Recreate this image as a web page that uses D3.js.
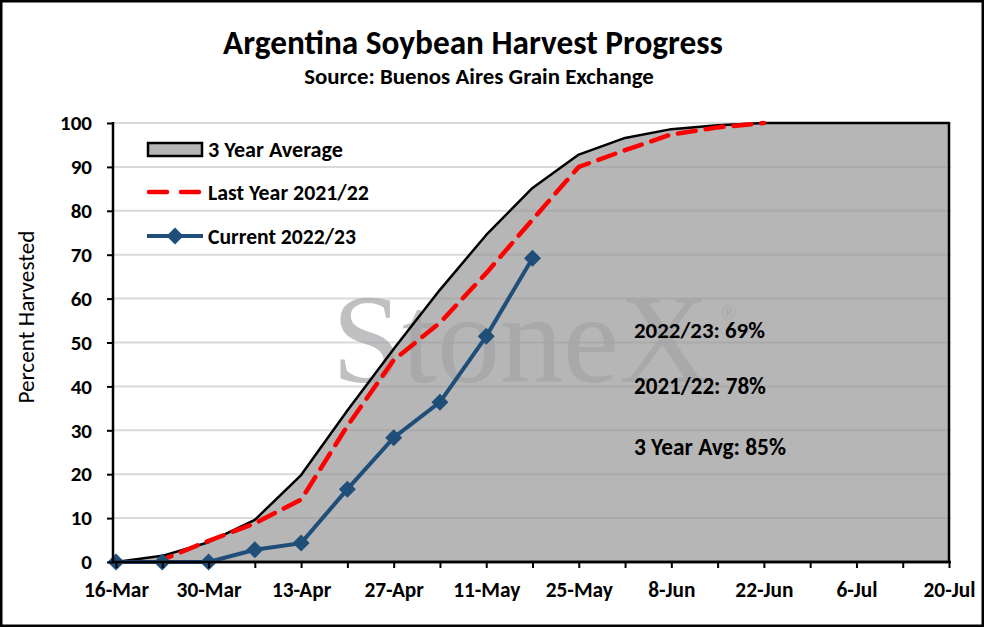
<!DOCTYPE html>
<html>
<head>
<meta charset="utf-8">
<script src="https://cdn.jsdelivr.net/npm/d3@7"></script>
<style>
  body { margin: 0; background: #fff; }
  text { font-family: Carlito, Calibri, Lato, sans-serif; }
</style>
</head>
<body>
<div id="chart"></div>
<script>
// weekly dates (2023 season)
const weeks = ["2023-03-16","2023-03-23","2023-03-30","2023-04-06","2023-04-13","2023-04-20",
               "2023-04-27","2023-05-04","2023-05-11","2023-05-18","2023-05-25","2023-06-01",
               "2023-06-08","2023-06-15","2023-06-22","2023-06-29","2023-07-06","2023-07-13","2023-07-20"];

const avg3yr   = [0, 1.4, 4.5, 9.6, 19.8, 34.5, 48.5, 62, 74.5, 85.2, 92.8, 96.6, 98.6, 99.5, 100, 100, 100, 100, 100];
const lastYear = [null, 0.5, 4.8, 8.8, 14.2, 31, 46, 54.5, 65.8, 78, 90, 93.8, 97.4, 99, 100, null, null, null, null];
const current  = [0, 0, 0, 2.8, 4.3, 16.6, 28.3, 36.4, 51.4, 69.2];

const yTicks = [0, 10, 20, 30, 40, 50, 60, 70, 80, 90, 100];
const labels = ["2022/23: 69%", "2021/22: 78%", "3 Year Avg: 85%"];

const parse = d3.timeParse("%Y-%m-%d");
const dates = weeks.map(parse);

const W = 984, H = 627;
const svg = d3.select("#chart").append("svg")
              .attr("width", W)
              .attr("height", H);

// scale a text's font so it covers the same width as in the picture
function fit(sel, target) {
  const size = +sel.attr("font-size");
  const w = sel.node().getComputedTextLength();
  sel.attr("font-size", size * target / w);
  return sel;
}

// outer frame
svg.append("rect")
   .attr("x", 1.25).attr("y", 1.25)
   .attr("width", W - 2.5).attr("height", H - 2.5)
   .attr("fill", "#fff").attr("stroke", "#000").attr("stroke-width", 2.5);

const x = d3.scaleTime()
            .domain([dates[0], dates[dates.length - 1]])
            .range([116, 949]);
const y = d3.scaleLinear().domain([0, 100]).range([562, 123]);

const plotLeft = 113, plotRight = 951;

// titles
fit(svg.append("text").attr("x", 473).attr("y", 54)
   .attr("text-anchor", "middle").attr("font-size", 26).attr("font-weight", "bold")
   .text("Argentina Soybean Harvest Progress"), 500);
fit(svg.append("text").attr("x", 479).attr("y", 84)
   .attr("text-anchor", "middle").attr("font-size", 19).attr("font-weight", "bold")
   .text("Source: Buenos Aires Grain Exchange"), 350);

// gridlines (under the area)
svg.append("g").selectAll("line")
   .data(yTicks.slice(1))
   .enter().append("line")
   .attr("x1", plotLeft).attr("x2", plotRight)
   .attr("y1", d => y(d)).attr("y2", d => y(d))
   .attr("stroke", "#d9d9d9").attr("stroke-width", 2);

// 3 year average area
const avgData = dates.map((d, i) => ({ date: d, v: avg3yr[i] }));
const area = d3.area()
               .x(d => x(d.date))
               .y0(y(0))
               .y1(d => y(d.v));

svg.append("clipPath").attr("id", "areaClip")
   .append("path").attr("d", area(avgData));

svg.append("path")
   .attr("d", area(avgData))
   .attr("fill", "#b6b6b6");

// gridlines showing through the grey area
svg.append("g").attr("clip-path", "url(#areaClip)")
   .selectAll("line")
   .data(yTicks.slice(1))
   .enter().append("line")
   .attr("x1", plotLeft).attr("x2", plotRight)
   .attr("y1", d => y(d)).attr("y2", d => y(d))
   .attr("stroke", "#aaaaaa").attr("stroke-width", 2);

// watermark
const wm = svg.append("g").attr("opacity", 0.68);
fit(wm.append("text").attr("x", 332).attr("y", 382)
  .style("font-family", "'Liberation Serif', 'Times New Roman', serif")
  .attr("font-size", 124).attr("fill", "#a3a3a6")
  .text("StoneX"), 378);
wm.append("text").attr("x", 721).attr("y", 320)
  .style("font-family", "'Liberation Serif', 'Times New Roman', serif")
  .attr("font-size", 20).attr("fill", "#a3a3a6")
  .text("®");

// area outline
svg.append("path")
   .attr("d", area(avgData))
   .attr("fill", "none")
   .attr("stroke", "#000")
   .attr("stroke-width", 2.5)
   .attr("stroke-linejoin", "round");

// last year dashed line
const lastData = dates.map((d, i) => ({ date: d, v: lastYear[i] }));
const line = d3.line()
               .defined(d => d.v != null)
               .x(d => x(d.date))
               .y(d => y(d.v));

svg.append("path")
   .attr("d", line(lastData))
   .attr("fill", "none")
   .attr("stroke", "#ff0000")
   .attr("stroke-width", 4.5)
   .attr("stroke-dasharray", "18,10")
   .attr("stroke-dashoffset", 8)
   .attr("stroke-linecap", "round");

// current season line + diamonds
const curData = current.map((v, i) => ({ date: dates[i], v: v }));
svg.append("path")
   .attr("d", line(curData))
   .attr("fill", "none")
   .attr("stroke", "#1f4e79")
   .attr("stroke-width", 4);

const diamond = "M0,-8.5L8.5,0L0,8.5L-8.5,0Z";
svg.append("g").selectAll("path")
   .data(curData)
   .enter().append("path")
   .attr("d", diamond)
   .attr("transform", d => `translate(${x(d.date)},${y(d.v)})`)
   .attr("fill", "#1f4e79");

// axes
const xAxis = svg.append("g")
   .attr("transform", `translate(0,${y(0)})`)
   .call(d3.axisBottom(x)
           .tickValues(dates)
           .tickSize(6)
           .tickFormat((d, i) => i % 2 === 0 ? d3.timeFormat("%-d-%b")(d) : ""));
xAxis.select(".domain").remove();
xAxis.selectAll(".tick line").attr("stroke", "#000").attr("stroke-width", 2);
const xt = xAxis.selectAll(".tick text")
     .attr("font-size", 17).attr("font-weight", "bold").attr("fill", "#000")
     .attr("y", 35).attr("dy", 0)
     .style("font-family", "Carlito, Calibri, Lato, sans-serif");
// size taken from the first label (16-Mar)
const xw = xt.nodes()[0].getComputedTextLength();
xt.attr("font-size", 17 * 65 / xw);

const yAxis = svg.append("g")
   .attr("transform", `translate(${plotLeft},0)`)
   .call(d3.axisLeft(y).tickValues(yTicks).tickSize(6).tickPadding(15));
yAxis.select(".domain").remove();
yAxis.selectAll(".tick line").attr("stroke", "#000").attr("stroke-width", 2);
const yt = yAxis.selectAll(".tick text")
     .attr("font-size", 17).attr("font-weight", "bold").attr("fill", "#000")
     .style("font-family", "Carlito, Calibri, Lato, sans-serif");
const yw = yt.nodes()[yt.size() - 1].getComputedTextLength();
yt.attr("font-size", 17 * 32 / yw);

svg.append("line")
   .attr("x1", plotLeft).attr("x2", plotLeft)
   .attr("y1", y(100) - 1).attr("y2", y(0) + 1.25)
   .attr("stroke", "#000").attr("stroke-width", 2.5);
svg.append("line")
   .attr("x1", plotLeft).attr("x2", plotRight)
   .attr("y1", y(0)).attr("y2", y(0))
   .attr("stroke", "#000").attr("stroke-width", 2.5);

// y axis title
fit(svg.append("text")
   .attr("transform", "translate(34,317) rotate(-90)")
   .attr("text-anchor", "middle").attr("font-size", 20)
   .text("Percent Harvested"), 173);

// legend
const lg = svg.append("g").attr("font-weight", "bold");
lg.append("rect").attr("x", 148).attr("y", 143)
  .attr("width", 54).attr("height", 13)
  .attr("fill", "#b6b6b6").attr("stroke", "#000").attr("stroke-width", 2.5);
fit(lg.append("text").attr("x", 208).attr("y", 157).attr("font-size", 18).text("3 Year Average"), 135);

lg.append("line").attr("x1", 149).attr("x2", 199).attr("y1", 192).attr("y2", 192)
  .attr("stroke", "#ff0000").attr("stroke-width", 4.5)
  .attr("stroke-dasharray", "18,14").attr("stroke-linecap", "round");
fit(lg.append("text").attr("x", 208).attr("y", 200).attr("font-size", 18).text("Last Year 2021/22"), 161);

lg.append("line").attr("x1", 147).attr("x2", 203).attr("y1", 236).attr("y2", 236)
  .attr("stroke", "#1f4e79").attr("stroke-width", 4);
lg.append("path").attr("d", diamond).attr("transform", "translate(175,236)")
  .attr("fill", "#1f4e79");
fit(lg.append("text").attr("x", 208).attr("y", 244).attr("font-size", 18).text("Current 2022/23"), 148);

// annotations
const ann = svg.append("g").attr("font-weight", "bold");
const annWidths = [131, 132, 152];
ann.selectAll("text")
   .data(labels)
   .enter().append("text")
   .attr("x", 634)
   .attr("y", (d, i) => [338, 394, 455][i])
   .attr("font-size", 19)
   .text(d => d)
   .each(function(d, i) { fit(d3.select(this), annWidths[i]); });
</script>
</body>
</html>
